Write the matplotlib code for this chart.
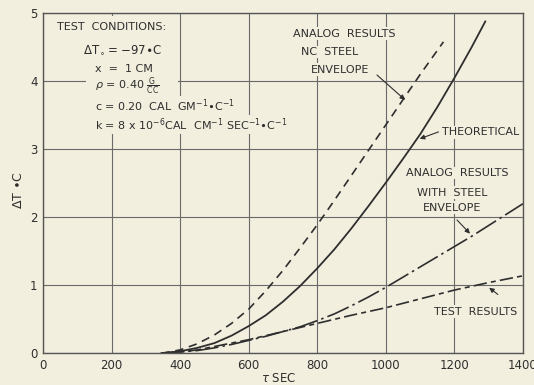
import matplotlib
matplotlib.use('Agg')
import matplotlib.pyplot as plt
from matplotlib.patches import Rectangle

# readings (tau in sec, delta T in deg C)
tau_theory = [345, 400, 450, 500, 550, 600, 650, 700, 750, 800, 850, 900, 950, 1000,
              1050, 1100, 1150, 1200, 1250, 1290]
dT_theory = [0, 0.03, 0.08, 0.15, 0.26, 0.40, 0.56, 0.76, 0.99, 1.25, 1.53, 1.84, 2.17,
             2.51, 2.86, 3.22, 3.62, 4.05, 4.50, 4.88]

tau_nc = [345, 400, 450, 500, 550, 600, 650, 700, 750, 800, 850, 900, 950, 1000, 1050,
          1100, 1168]
dT_nc = [0, 0.05, 0.14, 0.27, 0.44, 0.65, 0.92, 1.22, 1.55, 1.89, 2.25, 2.62, 2.99, 3.36,
         3.73, 4.10, 4.58]

tau_steel = [345, 400, 450, 500, 550, 600, 650, 700, 750, 800, 850, 900, 950, 1000, 1050,
             1100, 1150, 1200, 1250, 1300, 1350, 1400]
dT_steel = [0, 0.02, 0.04, 0.08, 0.13, 0.19, 0.25, 0.32, 0.39, 0.48, 0.58, 0.70, 0.83, 0.97,
            1.12, 1.27, 1.42, 1.57, 1.72, 1.88, 2.04, 2.20]

tau_test = [345, 400, 450, 500, 550, 600, 650, 700, 750, 800, 850, 900, 1000, 1100, 1200,
            1300, 1400]
dT_test = [0, 0.02, 0.05, 0.10, 0.15, 0.20, 0.26, 0.32, 0.38, 0.44, 0.50, 0.56, 0.67, 0.80,
           0.93, 1.04, 1.14]

x_ticks = [0, 200, 400, 600, 800, 1000, 1200, 1400]
y_ticks = [0, 1, 2, 3, 4, 5]

paper = '#f3efdf'
ink = '#2e2e2e'

fig = plt.figure(figsize=(5.34, 3.85), dpi=100)
fig.patch.set_facecolor(paper)
ax = fig.add_axes([43 / 534, 1 - 353.3 / 385, 480 / 534, 340 / 385])
ax.set_facecolor(paper)

ax.plot(tau_theory, dT_theory, color=ink, lw=1.3)
ax.plot(tau_nc, dT_nc, color=ink, lw=1.2, linestyle=(0, (5, 3.5)))
ax.plot(tau_steel, dT_steel, color=ink, lw=1.2, linestyle=(0, (14, 2.5, 1.5, 2.5)))
ax.plot(tau_test, dT_test, color=ink, lw=1.2, linestyle=(0, (8, 2.5, 3, 2.5)))

ax.set_xlim(0, 1400)
ax.set_ylim(0, 5)
ax.set_xticks(x_ticks)
ax.set_yticks(y_ticks)
ax.set_xticklabels([str(t) for t in x_ticks])
ax.set_yticklabels([str(t) for t in y_ticks])
ax.tick_params(length=0, labelsize=8.5, colors=ink, pad=4)
ax.grid(True, color='#6a6a6a', lw=0.8)
for s in ax.spines.values():
    s.set_color('#555555')
    s.set_linewidth(1.0)

# the lettering block in the original sits on a blank patch of paper
ax.add_patch(Rectangle((125, 3.22), 268, 1.74, facecolor=paper, edgecolor='none', zorder=1.6))

box = dict(facecolor=paper, edgecolor='none', pad=1.0)
fs = 8

# test conditions block
ax.text(41, 4.80, 'TEST  CONDITIONS:', fontsize=fs, color=ink, va='center', bbox=box)
ax.text(117, 4.46, r'$\Delta$T$_\circ$= $-$97$\bullet$C', fontsize=fs + 0.5, color=ink, va='center', bbox=box)
ax.text(152, 4.18, 'x  =  1 CM', fontsize=fs, color=ink, va='center', bbox=box)
ax.text(152, 3.93, r'$\rho$ = 0.40 $\frac{\mathrm{G}}{\mathrm{CC}}$', fontsize=fs, color=ink, va='center', bbox=box)
ax.text(152, 3.64, r'c = 0.20  CAL  GM$^{-1}$$\bullet$C$^{-1}$', fontsize=fs, color=ink, va='center', bbox=box)
ax.text(152, 3.36, r'k = 8 x 10$^{-6}$CAL  CM$^{-1}$ SEC$^{-1}$$\bullet$C$^{-1}$', fontsize=fs, color=ink,
        va='center', bbox=box)

# curve labels
ax.text(878, 4.70, 'ANALOG  RESULTS', fontsize=fs, color=ink, ha='center', va='center', bbox=box)
ax.text(837, 4.43, 'NC  STEEL', fontsize=fs, color=ink, ha='center', va='center', bbox=box)
ax.text(866, 4.17, 'ENVELOPE', fontsize=fs, color=ink, ha='center', va='center', bbox=box)
ax.annotate('', xy=(1062, 3.70), xytext=(968, 4.12),
            arrowprops=dict(arrowstyle='-|>', color=ink, lw=0.8, mutation_scale=7))

ax.text(1164, 3.25, 'THEORETICAL', fontsize=fs, color=ink, ha='left', va='center', bbox=box)
ax.annotate('', xy=(1091, 3.14), xytext=(1161, 3.27),
            arrowprops=dict(arrowstyle='-|>', color=ink, lw=0.8, mutation_scale=7))

ax.text(1208, 2.65, 'ANALOG  RESULTS', fontsize=fs, color=ink, ha='center', va='center', bbox=box)
ax.text(1193, 2.36, 'WITH  STEEL', fontsize=fs, color=ink, ha='center', va='center', bbox=box)
ax.text(1193, 2.14, 'ENVELOPE', fontsize=fs, color=ink, ha='center', va='center', bbox=box)
ax.annotate('', xy=(1251, 1.73), xytext=(1202, 1.99),
            arrowprops=dict(arrowstyle='-|>', color=ink, lw=0.8, mutation_scale=7))

ax.text(1263, 0.61, 'TEST  RESULTS', fontsize=fs, color=ink, ha='center', va='center', bbox=box)
ax.annotate('', xy=(1295, 0.99), xytext=(1333, 0.84),
            arrowprops=dict(arrowstyle='-|>', color=ink, lw=0.8, mutation_scale=7))

fig.text(18 / 534, 1 - 190 / 385, r'$\Delta$T $\bullet$C', rotation=90, fontsize=9, color=ink,
         ha='center', va='center')
fig.text(279 / 534, 1 - 378 / 385, r'$\tau$ SEC', fontsize=8.5, color=ink, ha='center', va='center')

fig.savefig('out.png', dpi=100, facecolor=paper)
